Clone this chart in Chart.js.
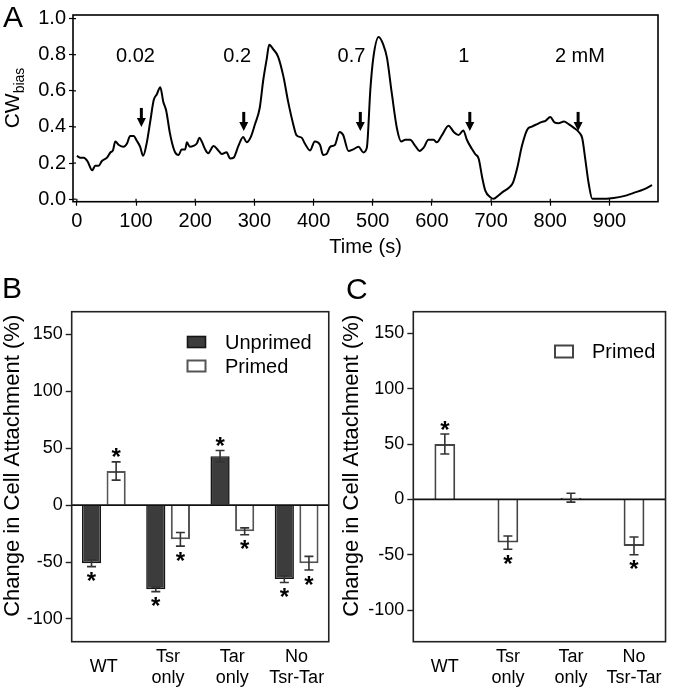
<!DOCTYPE html>
<html><head><meta charset="utf-8">
<script src="https://cdn.jsdelivr.net/npm/chart.js@4/dist/chart.umd.min.js"></script>
<style>
html,body{margin:0;padding:0;background:#fff;}
#wrap{position:relative;width:677px;height:690px;overflow:hidden;font-family:"Liberation Sans",Arial,sans-serif;background:#fff;}
canvas{position:absolute;}
.lbl{position:absolute;font-size:30px;line-height:30px;color:#000;font-family:"Liberation Sans",Arial,sans-serif;}
</style></head>
<body><div id="wrap">
<canvas id="cA" width="677" height="262" style="left:0;top:0"></canvas>
<canvas id="cB" width="340" height="428" style="left:0;top:262px"></canvas>
<canvas id="cC" width="337" height="428" style="left:340px;top:262px"></canvas>
<div class="lbl" style="left:3px;top:2px">A</div>
<div class="lbl" style="left:2px;top:273px">B</div>
<div class="lbl" style="left:346px;top:274px">C</div>
</div>
<script>
// ---------- Panel A data ----------
const timeA = [0,6,12,18,26,31,37,42,51,57,61,65,71,79,85,90,96,101,107,112,118,124,130,135,141,146,151,157,161,166,172,177,183,186,191,197,203,207,211,217,222,231,239,245,253,259,265,273,281,287,294,301,309,315,321,325,332,340,349,357,366,371,380,385,394,402,411,416,422,428,436,444,450,459,467,476,484,490,496,501,510,518,524,532,541,548,555,563,572,579,586,594,603,608,617,628,637,645,653,659,668,673,679,685,690,699,704,713,721,730,737,744,752,761,769,778,786,792,800,807,814,823,831,840,848,854,859,865,871,885,907,924,941,958,972];
const cwBias = [0.24,0.23,0.23,0.21,0.16,0.185,0.185,0.21,0.23,0.26,0.27,0.32,0.30,0.29,0.31,0.35,0.35,0.325,0.29,0.24,0.31,0.43,0.55,0.58,0.62,0.54,0.49,0.37,0.31,0.26,0.245,0.275,0.275,0.315,0.29,0.295,0.31,0.34,0.32,0.275,0.255,0.295,0.27,0.25,0.26,0.225,0.23,0.295,0.345,0.315,0.345,0.415,0.505,0.66,0.78,0.855,0.83,0.79,0.68,0.54,0.41,0.355,0.34,0.31,0.27,0.32,0.30,0.245,0.25,0.29,0.30,0.372,0.355,0.267,0.276,0.29,0.259,0.285,0.61,0.784,0.898,0.854,0.784,0.591,0.39,0.32,0.329,0.329,0.294,0.267,0.285,0.329,0.329,0.315,0.355,0.407,0.372,0.355,0.381,0.329,0.276,0.25,0.224,0.119,0.049,0.01,0.002,0.022,0.043,0.063,0.092,0.171,0.294,0.385,0.402,0.416,0.428,0.434,0.455,0.425,0.42,0.43,0.416,0.395,0.372,0.337,0.224,0.084,0.002,0.002,0.007,0.017,0.035,0.054,0.078];
const xTicksA = [0,100,200,300,400,500,600,700,800,900];
const yTicksA = [0,0.2,0.4,0.6,0.8,1.0];
const arrowTimes = [109,282,479,664,847];
const arrowTips = [0.40,0.378,0.378,0.378,0.378];
const concLabels = ['0.02','0.2','0.7','1','2 mM'];
const concTimes = [99,271,464,654,850];
const concLevel = 0.757;

// ---------- Panels B & C data ----------
const categories = ['WT',['Tsr','only'],['Tar','only'],['No','Tsr-Tar']];
const yTicksBC = [-100,-50,0,50,100,150];
const unprimedB = [-51,-74,43,-65];
const unprimedBErr = [3,2,5,3];
const unprimedBSig = [1,1,1,1];
const primedB = [30,-30,-23,-51];
const primedBErr = [8,6,3,6];
const primedBSig = [1,1,1,1];
const primedC = [50,-39,1.5,-42];
const primedCErr = [9,6,4,8];
const primedCSig = [1,1,0,1];

const FONT = '"Liberation Sans", Arial, sans-serif';
Chart.defaults.font.family = FONT;
Chart.defaults.color = '#000';
Chart.defaults.animation = false;

const framePlugin = {
  id: 'frame',
  afterDraw(chart, args, o) {
    const {ctx, chartArea: a} = chart;
    ctx.save();
    ctx.strokeStyle = o.color || '#000';
    ctx.lineWidth = o.width || 1.5;
    ctx.strokeRect(a.left, a.top, a.right - a.left, a.bottom - a.top);
    ctx.restore();
  }
};

// Panel A annotations: inner ticks, y title with subscript, arrows, concentration labels
const annotA = {
  id: 'annotA',
  afterDraw(chart) {
    const {ctx, chartArea: a} = chart;
    const xs = chart.scales.x, ys = chart.scales.y;
    ctx.save();
    ctx.strokeStyle = '#000'; ctx.lineWidth = 1.2;
    xs.ticks.forEach(t => { const px = xs.getPixelForValue(t.value); ctx.beginPath(); ctx.moveTo(px, a.bottom); ctx.lineTo(px, a.bottom - 3); ctx.stroke(); });
    ys.ticks.forEach(t => { const py = ys.getPixelForValue(t.value); ctx.beginPath(); ctx.moveTo(a.left, py); ctx.lineTo(a.left + 3, py); ctx.stroke(); });
    // y title CW_bias
    ctx.translate(11.5, 98);
    ctx.rotate(-Math.PI / 2);
    ctx.fillStyle = '#000';
    ctx.font = '21px ' + FONT;
    const w1 = ctx.measureText('CW').width;
    ctx.font = '14px ' + FONT;
    const w2 = ctx.measureText('bias').width;
    const x0 = -(w1 + w2) / 2;
    ctx.textBaseline = 'alphabetic'; ctx.textAlign = 'left';
    ctx.font = '21px ' + FONT;
    ctx.fillText('CW', x0, 7.5);
    ctx.font = '14px ' + FONT;
    ctx.fillText('bias', x0 + w1, 12);
    ctx.restore();

    ctx.save();
    ctx.fillStyle = '#000'; ctx.strokeStyle = '#000';
    arrowTimes.forEach((t, i) => {
      const px = xs.getPixelForValue(t);
      const tip = ys.getPixelForValue(arrowTips[i]);
      ctx.lineWidth = 3;
      ctx.beginPath(); ctx.moveTo(px, tip - 19); ctx.lineTo(px, tip - 7); ctx.stroke();
      ctx.beginPath(); ctx.moveTo(px - 4.5, tip - 9); ctx.lineTo(px + 4.5, tip - 9); ctx.lineTo(px, tip); ctx.closePath(); ctx.fill();
    });
    ctx.font = '20px ' + FONT;
    ctx.textAlign = 'center'; ctx.textBaseline = 'alphabetic';
    concLabels.forEach((s, i) => {
      ctx.fillText(s, xs.getPixelForValue(concTimes[i]), ys.getPixelForValue(concLevel));
    });
    ctx.restore();
  }
};

new Chart(document.getElementById('cA'), {
  type: 'line',
  data: {
    datasets: [{
      data: timeA.map((t, i) => ({x: t, y: cwBias[i]})),
      borderColor: '#000', borderWidth: 2, pointRadius: 0,
      cubicInterpolationMode: 'monotone', fill: false
    }]
  },
  options: {
    responsive: false, animation: false,
    layout: {padding: {top: 5, right: 19, left: 0, bottom: 0}},
    plugins: {legend: {display: false}, tooltip: {enabled: false}, frame: {color: '#000', width: 1.6}},
    scales: {
      x: {
        type: 'linear', min: -6.5, max: 982,
        afterBuildTicks: s => { s.ticks = xTicksA.map(v => ({value: v})); },
        afterFit: s => { s.height = 60.3; },
        grid: {display: true, drawOnChartArea: false, drawTicks: true, tickLength: 4, tickColor: '#000', tickWidth: 1.2},
        border: {display: false},
        ticks: {font: {size: 20}, color: '#000', padding: 4, maxRotation: 0, autoSkip: false},
        title: {display: true, text: 'Time (s)', font: {size: 20}, color: '#000', padding: {top: 0, bottom: 3}}
      },
      y: {
        min: -0.014, max: 1.02,
        afterBuildTicks: s => { s.ticks = yTicksA.map(v => ({value: v})); },
        afterFit: s => { s.width = 73; },
        grid: {display: true, drawOnChartArea: false, drawTicks: true, tickLength: 4, tickColor: '#000', tickWidth: 1.2},
        border: {display: false},
        ticks: {font: {size: 20}, color: '#000', padding: 3, callback: v => Number(v).toFixed(1)}
      }
    }
  },
  plugins: [framePlugin, annotA]
});

// ---------- bar panels ----------
const barExtras = {
  id: 'barExtras',
  afterDatasetsDraw(chart, args, o) {
    const {ctx, chartArea: a} = chart;
    const ys = chart.scales.y;
    ctx.save();
    // zero line
    const y0 = ys.getPixelForValue(0);
    ctx.strokeStyle = '#111'; ctx.lineWidth = 1.6;
    ctx.beginPath(); ctx.moveTo(a.left, y0); ctx.lineTo(a.right, y0); ctx.stroke();
    chart.data.datasets.forEach((ds, di) => {
      const meta = chart.getDatasetMeta(di);
      meta.data.forEach((bar, i) => {
        const v = ds.data[i], e = ds.err[i];
        const x = bar.x;
        const yT = ys.getPixelForValue(v + e), yB = ys.getPixelForValue(v - e);
        ctx.strokeStyle = '#333'; ctx.lineWidth = 1.6;
        ctx.beginPath();
        ctx.moveTo(x, yT); ctx.lineTo(x, yB);
        ctx.moveTo(x - 4.5, yT); ctx.lineTo(x + 4.5, yT);
        ctx.moveTo(x - 4.5, yB); ctx.lineTo(x + 4.5, yB);
        ctx.stroke();
        if (ds.sig[i]) {
          ctx.fillStyle = '#000';
          ctx.font = 'bold 24px ' + FONT;
          ctx.textAlign = 'center'; ctx.textBaseline = 'alphabetic';
          const cy = v >= 0 ? yT - 10 : yB + 9;
          ctx.fillText('*', x, cy + 13.5);
        }
      });
    });
    // y title
    ctx.save();
    ctx.translate(o.titleX, o.titleY);
    ctx.rotate(-Math.PI / 2);
    ctx.fillStyle = '#000';
    ctx.font = '22px ' + FONT;
    ctx.textAlign = 'center'; ctx.textBaseline = 'middle';
    ctx.fillText('Change in Cell Attachment (%)', 0, 0);
    ctx.restore();
    // legend
    const L = o.legend;
    chart.data.datasets.forEach((ds, di) => {
      const by = L.y + di * L.dy;
      ctx.fillStyle = ds.backgroundColor;
      ctx.fillRect(L.x, by, L.w, L.h);
      ctx.strokeStyle = ds.borderColor; ctx.lineWidth = ds.borderWidth;
      ctx.strokeRect(L.x, by, L.w, L.h);
      ctx.fillStyle = '#000';
      ctx.font = '20px ' + FONT;
      ctx.textAlign = 'left'; ctx.textBaseline = 'middle';
      ctx.fillText(ds.label, L.tx, by + L.h / 2 + 1);
    });
    ctx.restore();
  }
};

function barOptions(yMin, yMax, leftW, rightPad, extras) {
  return {
    responsive: false, animation: false,
    layout: {padding: {top: 49.7, right: rightPad, left: 0, bottom: 0}},
    plugins: {legend: {display: false}, tooltip: {enabled: false}, frame: {color: '#222', width: 1.6}, barExtras: extras},
    scales: {
      x: {
        grid: {display: false, drawTicks: false},
        border: {display: false},
        ticks: {font: {size: 18}, color: '#000', padding: 15, crossAlign: 'center', maxRotation: 0, autoSkip: false},
        afterFit: s => { s.height = 428 - 379.7; }
      },
      y: {
        min: yMin, max: yMax,
        afterBuildTicks: s => { s.ticks = yTicksBC.map(v => ({value: v})); },
        afterFit: s => { s.width = leftW; },
        grid: {display: true, drawOnChartArea: false, drawTicks: true, tickLength: 6, tickColor: '#222', tickWidth: 1.4},
        border: {display: false},
        ticks: {font: {size: 18}, color: '#000', padding: 3}
      }
    }
  };
}

new Chart(document.getElementById('cB'), {
  type: 'bar',
  data: {
    labels: categories,
    datasets: [
      {label: 'Unprimed', data: unprimedB, err: unprimedBErr, sig: unprimedBSig,
       backgroundColor: '#3c3c3c', borderColor: '#151515', borderWidth: 1.6,
       barPercentage: 0.78, categoryPercentage: 0.766},
      {label: 'Primed', data: primedB, err: primedBErr, sig: primedBSig,
       backgroundColor: '#ffffff', borderColor: '#555555', borderWidth: 2,
       barPercentage: 0.78, categoryPercentage: 0.766}
    ]
  },
  options: barOptions(-120, 170, 71.7, 7, {titleX: 12.5, titleY: 203.8, legend: {x: 187.5, y: 74.5, dy: 24, w: 18, h: 11, tx: 225}}),
  plugins: [barExtras, framePlugin]
});

new Chart(document.getElementById('cC'), {
  type: 'bar',
  data: {
    labels: categories,
    datasets: [
      {label: 'Primed', data: primedC, err: primedCErr, sig: primedCSig,
       backgroundColor: '#ffffff', borderColor: '#444444', borderWidth: 2,
       barPercentage: 0.33, categoryPercentage: 1}
    ]
  },
  options: barOptions(-128.5, 169.5, 73.3, 4, {titleX: 12, titleY: 203.8, legend: {x: 215, y: 83.5, dy: 24, w: 18, h: 12, tx: 252}}),
  plugins: [barExtras, framePlugin]
});
</script>
</body></html>
